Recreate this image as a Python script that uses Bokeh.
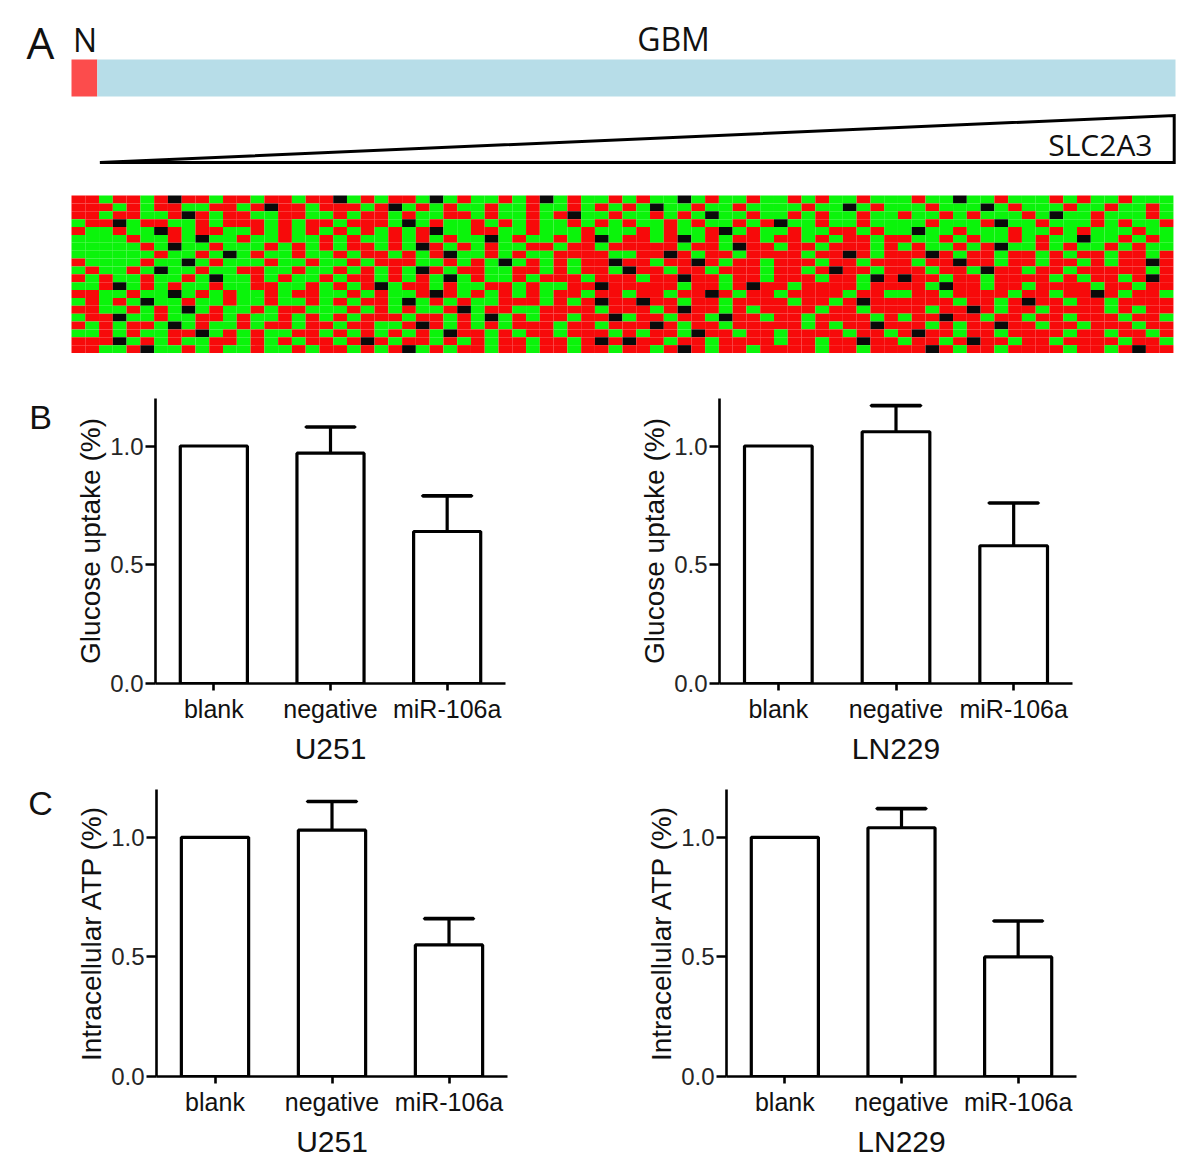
from bokeh.plotting import figure
from bokeh.layouts import column, row
from bokeh.models import Range1d, Label, FixedTicker, NumeralTickFormatter, FactorRange
from bokeh.embed import file_html
from bokeh.resources import INLINE

# ---------------- data ----------------
categories = ["blank", "negative", "miR-106a"]
u251_glucose = [1.0, 0.97, 0.64]
u251_glucose_err = [0.0, 0.11, 0.15]
ln229_glucose = [1.0, 1.06, 0.58]
ln229_glucose_err = [0.0, 0.11, 0.18]
u251_atp = [1.0, 1.03, 0.55]
u251_atp_err = [0.0, 0.12, 0.11]
ln229_atp = [1.0, 1.04, 0.50]
ln229_atp_err = [0.0, 0.08, 0.15]
y_ticks = [0.0, 0.5, 1.0]

n_normal = 10
n_gbm = 418

# coarse reading of the heat map: R = red, G = green, K = black
heat_rows = [
    "RRGRRGRKRRGRRGRRGRRK" "GRGRRGKGRGGRGRKGRGGR" "GRGGKGRGGRGGRGRGGRGG" "GRGGKGGRGGGRGRGGRGGG",
    "RRRGRGRRGGRRGRKRRGRR" "RGRKGRGRGGRGGRGGRGRG" "RGKGGRGGRGGGGRGGKGRG" "GGRGGGKGRGGGRGGRGGRG",
    "RRGRRGGRKRGRRGGRRGGR" "GRRGRGGRRGRGGRGRKGGR" "GGRGRGKGGRGGRGRGGRGG" "RGGRGRGGGRGKGGRGGGRG",
    "GRRKGRRGGRGRRRGRGRRG" "RRRGKGRGGRGRGRGGRGRG" "RGGRGRGGRGRKGGRGGRGG" "GGRGGGRKGGRGGGRGRGGR",
    "RGGRGGKRGRRGGRGRGRGR" "GRGRGRKGGRRGGRGGGRGG" "GRGRGGRKGRGGRGGRRGRG" "GKGGRGGGRGGRGRGGGRGG",
    "GGGGRGGRGKGGRGGRGGRG" "RGGRGRGRGGKGRGGRGRKG" "RRGRKGRGRRGRRGRGRRGR" "RGGRGRGGRGRGGKGGRGRG",
    "GGGGGRGKGGRGGGRGRGRG" "RRGRGKRGRGRGGRRGRRGR" "RRRRGRRGKRRGRRGRRRGR" "GRGGRGRKGGRGRGGRGRGG",
    "GGGGGGRGGRGKGRGGRGGR" "GRRGRGRKGGRGRGGRRRRG" "GRRKRGRRGRRRRGRRKRGR" "RRKRGRRGRRGRGRRGRRGR",
    "RGGGGRGGKGRGGGRGGRGG" "RGRRRGGRGRGKGRGRGRRK" "RRGRRKRGRRGRRRGRRGRR" "RGRRKRRGRRGRRGRGRRKR",
    "GRGGRGKGGRGGRRGGRGGR" "GRGRGKRGRRGGRRGRGRRG" "KRRGRRGRRRGRRGRKRRGR" "RRGRRGKRRGRRGRRRRRGR",
    "RGRGGRGGRGKGGRGRGGRG" "RRGRGRGKGRGGRGRRRGRR" "RGRRKRRGRRGRRRGRRGKR" "KRRGRRGRRRRGRGRRGRKR",
    "GGRKGRGRGGRGGRRGGRGR" "GRKGRRGRGGRRGRGGRRKR" "RRRRGRRGRKRRGRRRRGRR" "RRGKRRGRRGRRRRGRRGRR",
    "RRGGRGGKGRGRGGRGRRGG" "RGRGGRKRGRGRGRGRRGRR" "GRRGRRKRGRRGRRRRGRRG" "GRRGRRRRGRRGRRKRGRRG",
    "GRGRGKGGRGGRGGRGGRGR" "GRRGKGRGRGGRRRGRGRKR" "RKRRGRRGRRRRGRRGRKRR" "RRRRGRRGRKRRGRRGRRRR",
    "RRGGRGRGKGRGGRGRRGGG" "RGRGRGGRKGRRGGRRRRGR" "RRGRKRRGRGRRRRGRRGRR" "RRGRRKRGRRGRRRRGRGRR",
    "GRRKGGRGGRRGRGGRGRGR" "GRRRGRRGRGKGRGRRGRRK" "GRRGRRGKRRGRRGRRRRGR" "GRRKRRGRRGRRGRRRGRRG",
    "RGRGRRGKGRGGRGRRGRRG" "RRGGRKRGRGRGRRRGRRGR" "RRKRGRRGRRRRRGRGRRKR" "RRGRGRRKRRGRRGRRRGRR",
    "GGRGRGGRRKGRGRGGRRGR" "GRGRGRGKRRGRGRRGRRRG" "RGRRGKRRGRRGRRRRGRRG" "RKRRGRRGRRRRGRRGRRGR",
    "RRRKGRGRGGRRGRGRGRRG" "RKRGRRGRGRGRRGRRGRKR" "KRRGRRGRRRRGRRGRRKRR" "GRRGRKRRGRRGRRRRGRRG",
    "RRGGRKGGRGRGGRGGRGRR" "GRGRKGRGRRGRRGRRGRRG" "RRGRKRGRRGRRRRGRRGRR" "RRKRGRRGRRRRGRRGRKRR",
]

heat_colors = {"R": "#f70a0a", "G": "#0bf40b", "K": "#0a0a0a"}

FONT = "Liberation Sans"
LFONT = "Open Sans"


def blank_fig(w, h, xr, yr):
    p = figure(width=w, height=h, output_backend="svg", toolbar_location=None,
               x_range=xr, y_range=yr, x_axis_location=None, y_axis_location=None,
               min_border=0, min_border_left=0, min_border_right=0,
               min_border_top=0, min_border_bottom=0)
    p.grid.visible = False
    p.outline_line_color = None
    p.background_fill_color = "white"
    p.border_fill_color = "white"
    return p


# ---------------- panel A ----------------
WA, HA = 1200, 380
x0_px, x1_px = 71.0, 1175.0          # first and last sample edge, in pixels
n_total = n_normal + n_gbm
pps = (x1_px - x0_px) / n_total


def sx(px):
    return (px - x0_px) / pps


pa = blank_fig(WA, HA, Range1d(sx(0), sx(WA)), Range1d(HA, 0))

# sample group bar
pa.quad(left=[0, n_normal], right=[n_normal, n_total], top=[59, 59], bottom=[96, 96],
        fill_color=["#fc4c4c", "#b7dde8"], line_color=None)

# SLC2A3 wedge
pa.patch([n_normal + 1, n_total - 0.5, n_total - 0.5], [162, 162, 115], fill_color="white",
         line_color="black", line_width=3, line_join="miter")

# heat map
hl, hr, ht, hb, hc = [], [], [], [], []
ntop, nbot = 195.0, 352.5
rh = (nbot - ntop) / len(heat_rows)
for j, rowstr in enumerate(heat_rows):
    cw = (n_total - 0.8) / len(rowstr)
    for i, ch in enumerate(rowstr):
        hl.append(i * cw)
        hr.append((i + 1) * cw)
        ht.append(ntop + j * rh)
        hb.append(ntop + (j + 1) * rh)
        hc.append(heat_colors[ch])
pa.quad(left=hl, right=hr, top=ht, bottom=hb, fill_color=hc, line_color=None)

pa.add_layout(Label(x=sx(40), y=41, text="A", text_font=LFONT, text_font_size="44px",
                    text_align="center", text_baseline="middle", text_color="#111111"))
pa.add_layout(Label(x=n_normal / 2 + 0.3, y=39, text="N", text_font=LFONT, text_font_size="32px",
                    text_align="center", text_baseline="middle", text_color="#111111"))
pa.add_layout(Label(x=sx(673), y=38, text="GBM", text_font=LFONT, text_font_size="32px",
                    text_align="center", text_baseline="middle", text_color="#111111"))
pa.add_layout(Label(x=sx(1152), y=144, text="SLC2A3", text_font=LFONT, text_font_size="30px",
                    text_align="right", text_baseline="middle", text_color="#111111"))


# ---------------- panel letters ----------------
def letter_fig(letter, w, h, cx, cy):
    p = blank_fig(w, h, Range1d(0, w), Range1d(h, 0))
    p.add_layout(Label(x=cx, y=cy, text=letter, text_font=FONT, text_font_size="34px",
                       text_align="center", text_baseline="middle", text_color="#111111"))
    return p


# ---------------- bar panels ----------------
def bar_panel(vals, errs, ylabel, xlabel, width, height, bl, bt, fw, fh):
    bb = height - bt - fh
    br = width - bl - fw
    p = figure(width=width, height=height, x_range=FactorRange(*categories),
               y_range=Range1d(0, 1.2), output_backend="svg", toolbar_location=None,
               min_border_left=bl, min_border_right=br, min_border_top=bt,
               min_border_bottom=bb)
    p.grid.visible = False
    p.outline_line_color = None
    p.background_fill_color = "white"
    p.border_fill_color = "white"
    p.x_range.range_padding = 0

    p.vbar(x=categories, top=vals, width=0.575, fill_color="white",
           line_color="black", line_width=3.2)
    ec = [c for c, e in zip(categories, errs) if e > 0]
    ev = [v for v, e in zip(vals, errs) if e > 0]
    ee = [v + e for v, e in zip(vals, errs) if e > 0]
    p.segment(x0=ec, y0=ev, x1=ec, y1=ee, line_color="black", line_width=3.2)
    p.hbar(y=ee, left=[(c, -0.21) for c in ec], right=[(c, 0.21) for c in ec],
           height=0.0001, line_color="black", line_width=3.6, line_cap="round")

    ya = p.yaxis[0]
    ya.ticker = FixedTicker(ticks=y_ticks)
    ya.formatter = NumeralTickFormatter(format="0.0")
    ya.axis_line_width = 2.6
    ya.major_tick_line_width = 2.6
    ya.major_tick_in = 0
    ya.major_tick_out = 10
    ya.minor_tick_line_color = None
    ya.major_label_text_font = FONT
    ya.major_label_text_font_size = "24px"
    ya.major_label_text_color = "#262626"
    ya.major_label_standoff = 2
    ya.axis_label = ylabel
    ya.axis_label_text_font = FONT
    ya.axis_label_text_font_size = "28px"
    ya.axis_label_text_font_style = "normal"
    ya.axis_label_text_color = "#111111"
    ya.axis_label_standoff = 1

    xa = p.xaxis[0]
    xa.axis_line_width = 2.6
    xa.major_tick_line_width = 2.6
    xa.major_tick_in = 0
    xa.major_tick_out = 7
    xa.minor_tick_line_color = None
    xa.major_label_text_font = FONT
    xa.major_label_text_font_size = "25px"
    xa.major_label_text_color = "#111111"
    xa.major_label_standoff = 4
    xa.axis_label = xlabel
    xa.axis_label_text_font = FONT
    xa.axis_label_text_font_size = "30px"
    xa.axis_label_text_font_style = "normal"
    xa.axis_label_text_color = "#111111"
    xa.axis_label_standoff = 6
    return p


LW = 60
lb = letter_fig("B", LW, 392, 40, 26)
b1 = bar_panel(u251_glucose, u251_glucose_err, "Glucose uptake (%)", "U251",
               568 - LW, 392, 155 - LW, 15, 350, 288)
b2 = bar_panel(ln229_glucose, ln229_glucose_err, "Glucose uptake (%)", "LN229",
               632, 392, 151, 18, 353, 289)
lc = letter_fig("C", LW, 398, 40, 19)
c1 = bar_panel(u251_atp, u251_atp_err, "Intracellular ATP (%)", "U251",
               568 - LW, 398, 156 - LW, 15, 351, 289)
c2 = bar_panel(ln229_atp, ln229_atp_err, "Intracellular ATP (%)", "LN229",
               632, 398, 158, 17, 350, 288)

layout = column(pa, row(lb, b1, b2, spacing=0), row(lc, c1, c2, spacing=0), spacing=0)

open("out.html", "w").write(file_html(layout, INLINE))
